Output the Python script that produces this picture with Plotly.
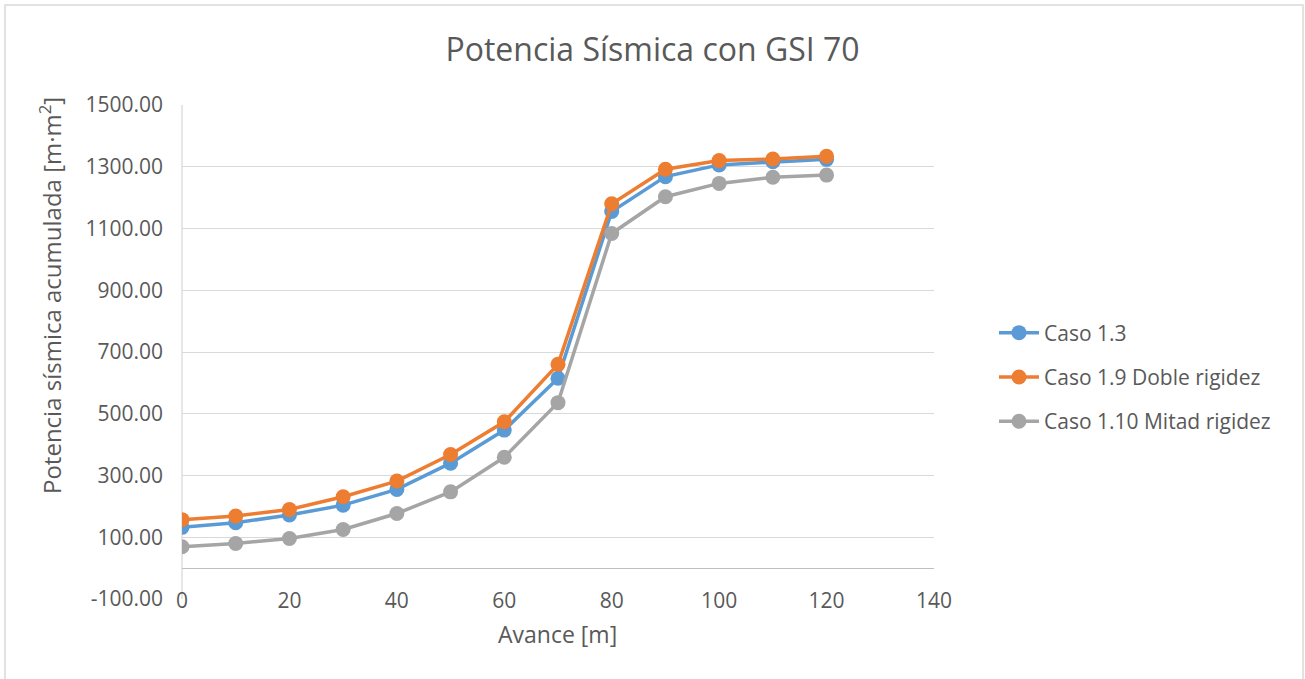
import plotly.graph_objects as go

avance = [0, 10, 20, 30, 40, 50, 60, 70, 80, 90, 100, 110, 120]
caso_1_3 = [132, 147, 172, 204, 255, 340, 447, 615, 1155, 1268, 1306, 1316, 1324]
caso_1_9 = [157, 169, 190, 231, 282, 368, 474, 660, 1180, 1292, 1320, 1325, 1334]
caso_1_10 = [69, 80, 96, 125, 177, 247, 359, 536, 1084, 1203, 1246, 1266, 1273]

y_ticks = [-100, 100, 300, 500, 700, 900, 1100, 1300, 1500]
y_tick_labels = ["-100.00", "100.00", "300.00", "500.00", "700.00", "900.00",
                 "1100.00", "1300.00", "1500.00"]

names = ["Caso 1.3", "Caso 1.9 Doble rigidez", "Caso 1.10 Mitad rigidez"]
colors = ["#5B9BD5", "#ED7D31", "#A5A5A5"]
series = [caso_1_3, caso_1_9, caso_1_10]

FONT = "Open Sans"
TXT = "#595959"
GRID = "#D9D9D9"

L, R, T, B = 182, 371, 105, 80
W, H = 1305, 679
PW, PH = W - L - R, H - T - B

def px_x(p):
    return (p - L) / PW

def px_y(p):
    return (H - B - p) / PH

fig = go.Figure()
for i, (nm, col, ys) in enumerate(zip(names, colors, series)):
    fig.add_trace(go.Scatter(
        x=avance, y=ys, name=nm, mode="lines+markers",
        xaxis="x2", yaxis="y",
        line=dict(color=col, width=3.5),
        marker=dict(color=col, size=15),
        legendgroup=f"g{i}",
    ))

fig.update_layout(
    width=W, height=H,
    margin=dict(l=L, r=R, t=T, b=B, autoexpand=False),
    paper_bgcolor="white", plot_bgcolor="white",
    font=dict(family=FONT, color=TXT, size=21),
    title=dict(text="Potencia Sísmica con GSI 70", x=0.5, xanchor="center",
               y=1 - 50 / H, yanchor="middle",
               font=dict(family=FONT, size=32, color=TXT)),
    xaxis=dict(range=[0, 140], dtick=20, showgrid=True, gridcolor=GRID, gridwidth=1.3,
               showticklabels=False, zeroline=False, showline=False, ticks=""),
    xaxis2=dict(range=[0, 140], dtick=20, overlaying="x", anchor="free", position=0.026,
                showgrid=False, zeroline=False, showline=False, ticks="",
                tickfont=dict(size=21, color=TXT, family=FONT)),
    yaxis=dict(range=[-100, 1500], tickmode="array", tickvals=y_ticks, ticktext=y_tick_labels,
               showgrid=True, gridcolor=GRID, gridwidth=1.3, zeroline=True,
               zerolinecolor="#BFBFBF", zerolinewidth=1.3, showline=False, ticks="",
               ticklabelstandoff=18, tickfont=dict(size=21, color=TXT, family=FONT)),
    legend=dict(x=px_x(994), xanchor="left", y=px_y(377), yanchor="middle",
                font=dict(size=21, color=TXT, family=FONT), tracegroupgap=14,
                itemwidth=40, bgcolor="rgba(0,0,0,0)"),
    showlegend=True,
    annotations=[
        dict(text="Avance [m]", xref="paper", yref="paper", x=px_x(557), y=px_y(634),
             xanchor="center", yanchor="middle", showarrow=False,
             font=dict(size=23, color=TXT, family=FONT)),
        dict(text="Potencia sísmica acumulada [m·m<sup>2</sup>]", xref="paper", yref="paper",
             x=px_x(50), y=px_y(296), xanchor="center", yanchor="middle", textangle=-90,
             showarrow=False, font=dict(size=24, color=TXT, family=FONT)),
    ],
    shapes=[
        dict(type="line", xref="paper", yref="paper", x0=0, x1=0, y0=0, y1=1,
             line=dict(color=GRID, width=1.3), layer="below"),
        dict(type="rect", xref="paper", yref="paper", x0=px_x(5), x1=px_x(1303),
             y0=px_y(690), y1=px_y(5), line=dict(color="#D9D9D9", width=1.5),
             fillcolor="rgba(0,0,0,0)"),
    ],
)

fig.write_html("out.html", config={"displayModeBar": False},
               post_script="document.body.style.margin='0';")
